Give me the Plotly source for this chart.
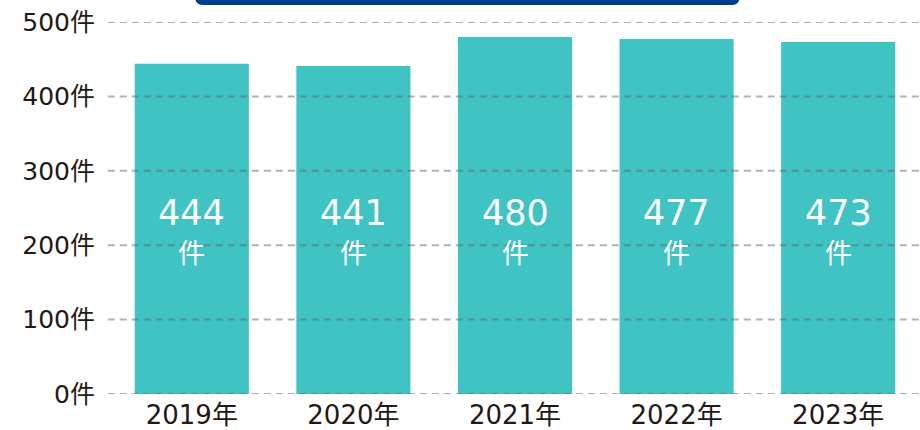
import plotly.graph_objects as go

years = ["2019年", "2020年", "2021年", "2022年", "2023年"]
counts = [444, 441, 480, 477, 473]
y_ticks = [0, 100, 200, 300, 400, 500]
y_tick_labels = [f"{v}件" for v in y_ticks]

FONT = "DejaVu Sans, Noto Sans CJK JP"
TEXT = "#231815"
BAR = "#40C3C3"

fig = go.Figure()
fig.add_trace(go.Bar(
    x=years, y=counts,
    marker=dict(color=BAR, line=dict(width=0)),
    hoverinfo="skip",
))

for yr, c in zip(years, counts):
    fig.add_annotation(x=yr, y=243, text=str(c), showarrow=False,
                       font=dict(family=FONT, size=35, color="white"),
                       xref="x", yref="y", yanchor="middle")
    fig.add_annotation(x=yr, y=191, text="件", showarrow=False,
                       font=dict(family="Noto Sans CJK JP", size=27, color="white"),
                       xref="x", yref="y", yanchor="middle")

# dashed gridlines drawn above the bars
for v in y_ticks:
    fig.add_shape(type="line", xref="paper", yref="y",
                  x0=-0.004, x1=1.0, y0=v, y1=v,
                  line=dict(color="rgba(100,100,100,0.5)", width=2, dash="7px,5px"),
                  layer="above")

# dark navy rounded banner at the top (partially visible)
fig.add_shape(type="path", xref="paper", yref="paper",
              path=("M 0.104,1.12 L 0.104,1.068 Q 0.104,1.0457 0.114,1.0457 "
                    "L 0.768,1.0457 Q 0.778,1.0457 0.778,1.068 L 0.778,1.12 Z"),
              fillcolor="#003C8A", line=dict(width=0), layer="above")

fig.update_layout(
    width=920, height=430,
    margin=dict(l=111, r=1, t=22, b=36),
    paper_bgcolor="white", plot_bgcolor="white",
    bargap=0.294,
    showlegend=False,
    font=dict(family=FONT, color=TEXT),
    xaxis=dict(
        showgrid=False, showline=False, zeroline=False,
        tickfont=dict(family=FONT, size=26, color=TEXT),
        ticks="", fixedrange=True, ticklabelstandoff=3,
        automargin=False,
    ),
    yaxis=dict(
        range=[0, 500],
        tickvals=y_ticks, ticktext=y_tick_labels,
        tickfont=dict(family=FONT, size=25, color=TEXT),
        showgrid=False,
        zeroline=False, showline=False, ticks="",
        ticklabelstandoff=15, fixedrange=True,
        automargin=False,
    ),
)

fig.write_html("out.html", config={"displayModeBar": False},
               post_script="document.body.style.margin='0';")
